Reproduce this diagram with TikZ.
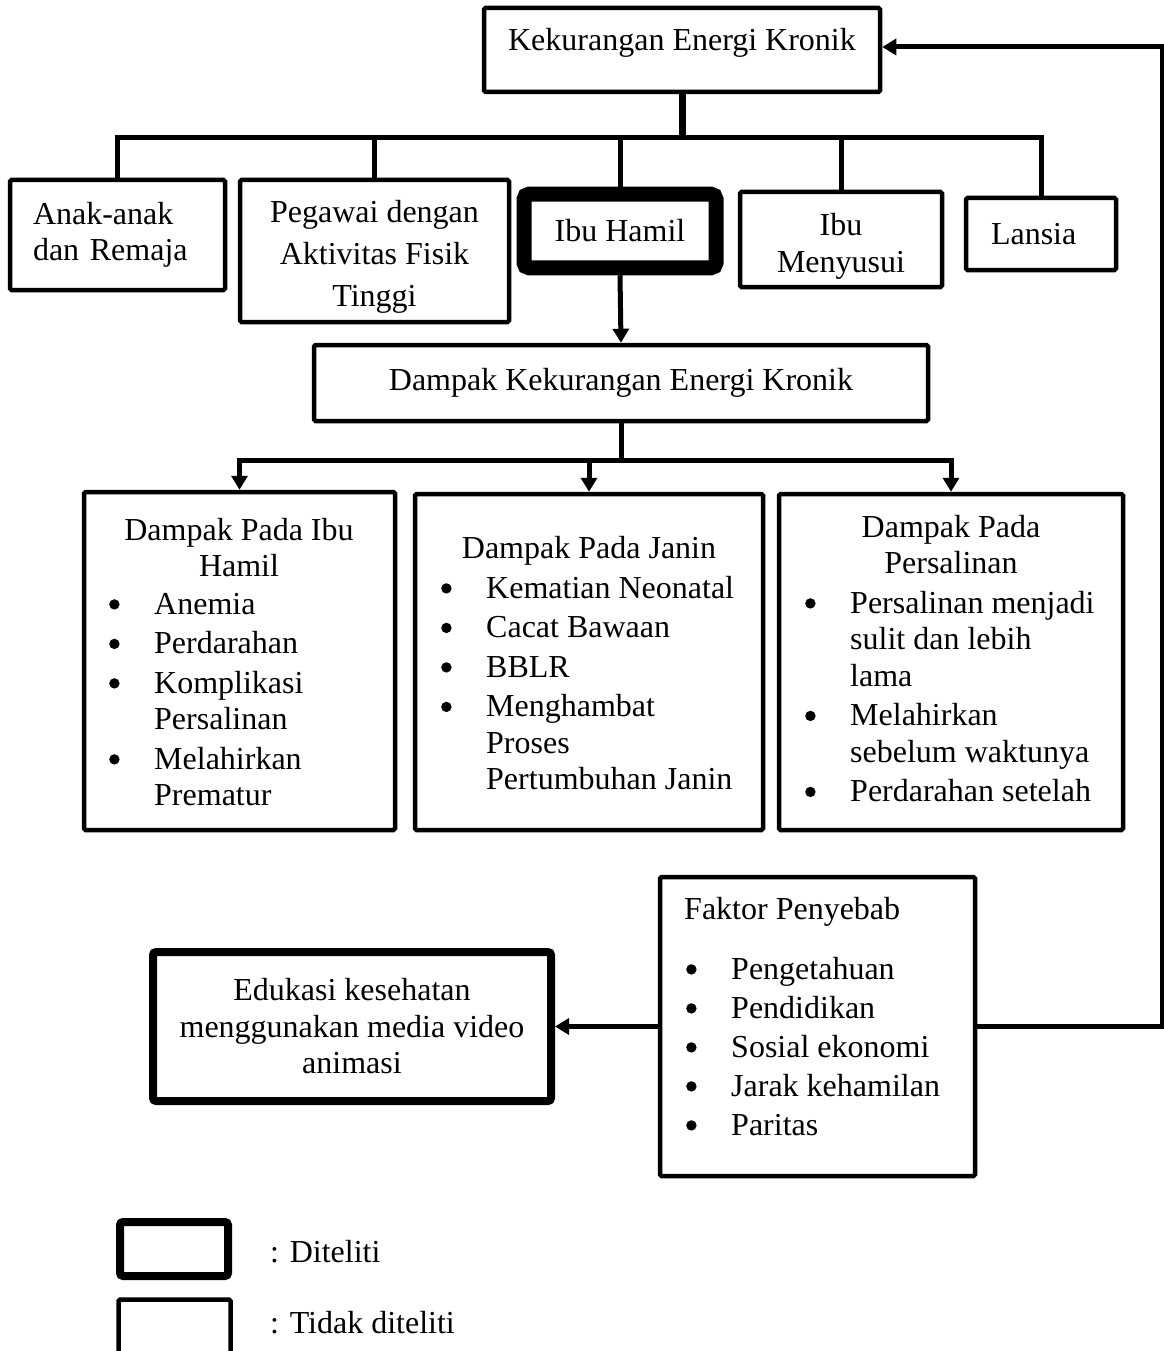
\documentclass[tikz,border=0pt]{standalone}
\usepackage{fontspec}
\setmainfont{Liberation Serif}
\usepackage{tikz}
\usetikzlibrary{positioning}
\usetikzlibrary{arrows.meta}
\tikzset{
  base_node/.style = {inner sep=0pt, font=\fontsize{32}{36.5}\selectfont},
  box_node/.style = {base_node, rectangle, draw=black, line width=4.5pt,
    rounded corners=1.5pt, align=center},
  thick_node/.style = {box_node, line width=15pt, rounded corners=5pt},
  mid_node/.style = {box_node, line width=8pt, rounded corners=3pt},
  txt_node/.style = {base_node, align=center},
  list_node/.style = {base_node, align=left, anchor=north west},
  link/.style = {line width=5pt, line join=miter},
  arrow_link/.style = {link, -{Triangle[length=14pt,width=16pt]}}
}
\newcommand{\bigdot}{\tikz[baseline=-10pt]\fill (0,0) circle (5.2pt);}
\newcommand{\bulitem}[1]{\makebox[46pt][l]{\hspace*{1pt}\bigdot}#1}
\newcommand{\bulcont}[1]{\hspace*{46pt}#1}

\begin{document}
\begin{tikzpicture}[x=1pt, y=-1pt]
  \useasboundingbox (0,0) rectangle (1163,1351);

  % top
  \node[box_node, minimum width=396pt, minimum height=84pt] (kek) at (682,50) {};
  \node[txt_node, anchor=north] (kek_txt) at (682,28) {Kekurangan Energi Kronik};

  % groups
  \node[box_node, minimum height=110pt, text width=169pt, inner xsep=23pt, align=left]
    (anak) at (117.5,235) {Anak-anak\\dan Remaja};
  \node[box_node, minimum width=269pt, minimum height=142pt]
    (pegawai) at (374.5,251) {\rule{0pt}{34pt}Pegawai dengan\\[5.5pt]Aktivitas Fisik\\[5.5pt]Tinggi};
  \node[thick_node, minimum width=192pt, minimum height=73.5pt] (ibu) at (620,231) {Ibu Hamil};
  \node[box_node, minimum width=202pt, minimum height=95pt] (menyusui) at (841,239.5)
    {\rule{0pt}{36pt}Ibu\\Menyusui};
  \node[box_node, minimum height=72pt, text width=100pt, inner xsep=25pt, align=left]
    (lansia) at (1041,234) {Lansia};

  \node[box_node, minimum width=614pt, minimum height=76pt] (dampak) at (621,383)
    {Dampak Kekurangan Energi Kronik};

  % dampak boxes
  \node[box_node, minimum width=311pt, minimum height=338pt] (pIbu) at (239.5,661) {};
  \node[box_node, minimum width=348pt, minimum height=336pt] (pJanin) at (589,662) {};
  \node[box_node, minimum width=344pt, minimum height=336pt] (pSalin) at (951,662) {};

  \node[txt_node, anchor=north] (pIbu_ttl) at (239,518) {Dampak Pada Ibu\\Hamil};
  \node[list_node] (pIbu_lst) at (108,593) {\bulitem{Anemia}\\[3pt]\bulitem{Perdarahan}\\[3pt]%
    \bulitem{Komplikasi}\\\bulcont{Persalinan}\\[3pt]\bulitem{Melahirkan}\\\bulcont{Prematur}};

  \node[txt_node, anchor=north] (pJanin_ttl) at (589,536) {Dampak Pada Janin};
  \node[list_node] (pJanin_lst) at (440,576) {\bulitem{Kematian Neonatal}\\[3pt]%
    \bulitem{Cacat Bawaan}\\[3pt]\bulitem{BBLR}\\[3pt]\bulitem{Menghambat}\\%
    \bulcont{Proses}\\\bulcont{Pertumbuhan Janin}};

  \node[txt_node, anchor=north] (pSalin_ttl) at (951,515) {Dampak Pada\\Persalinan};
  \node[list_node] (pSalin_lst) at (804,591) {\bulitem{Persalinan menjadi}\\%
    \bulcont{sulit dan lebih}\\\bulcont{lama}\\[3pt]\bulitem{Melahirkan}\\%
    \bulcont{sebelum waktunya}\\[3pt]\bulitem{Perdarahan setelah}};

  % faktor and edukasi
  \node[box_node, minimum width=315pt, minimum height=299pt] (faktor) at (817.5,1026.5) {};
  \node[list_node] (faktor_ttl) at (684,897) {Faktor Penyebab};
  \node[list_node] (faktor_lst) at (685,957) {\bulitem{Pengetahuan}\\[2.5pt]%
    \bulitem{Pendidikan}\\[2.5pt]\bulitem{Sosial ekonomi}\\[2.5pt]%
    \bulitem{Jarak kehamilan}\\[2.5pt]\bulitem{Paritas}};

  \node[mid_node, minimum width=398pt, minimum height=149pt] (edukasi) at (352,1026.5)
    {Edukasi kesehatan\\menggunakan media video\\animasi};

  % legend
  \node[mid_node, minimum width=108pt, minimum height=54pt] (leg_a) at (174,1249) {};
  \node[box_node, minimum width=112pt, minimum height=80pt] (leg_b) at (174.5,1339.5) {};
  \node[base_node, anchor=west] (leg_a_txt) at (270,1252) {: Diteliti};
  \node[base_node, anchor=west] (leg_b_txt) at (270,1323) {: Tidak diteliti};

  % connectors
  \draw[link, line width=7pt] (kek.south) -- ++(0,43) coordinate (hub_top);
  \foreach \b in {anak,pegawai,ibu,menyusui,lansia}
    \draw[link] (hub_top) -| (\b.north);
  \draw[arrow_link] (ibu.south) -- (dampak.north);
  \draw[link] (dampak.south) -- ++(0,37) coordinate (hub_mid);
  \foreach \b in {pIbu,pJanin,pSalin}
    \draw[arrow_link] (hub_mid) -| (\b.north);
  \draw[arrow_link] (faktor.west) -- (edukasi.east);
  \draw[arrow_link] (faktor.east) -- ++(185,0) |- ([yshift=3pt]kek.east);
\end{tikzpicture}
\end{document}
